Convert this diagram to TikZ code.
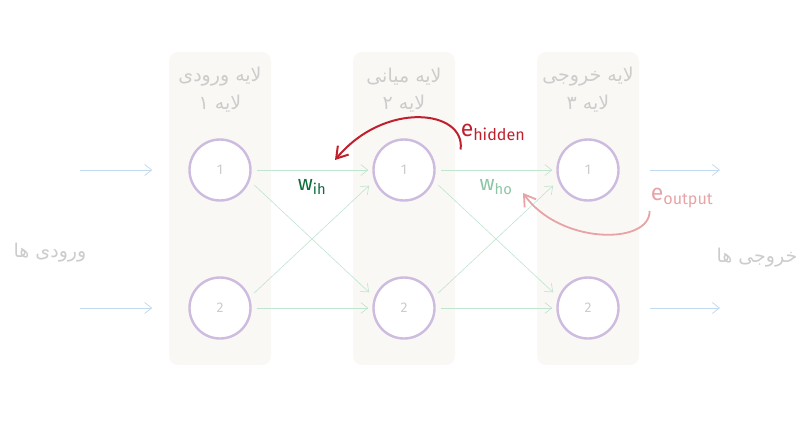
\documentclass[tikz,border=0pt]{standalone}
\usepackage{fontspec}
\setmainfont{Fira Sans}
\newfontfamily\farsi[Script=Arabic]{DejaVu Sans}
\TeXXeTstate=1
\usetikzlibrary{positioning,arrows.meta}
\definecolor{boxfill}{HTML}{FAF8F4}
\definecolor{ringcol}{HTML}{CDBCDF}
\definecolor{greytext}{HTML}{CCCCCC}
\definecolor{inblue}{HTML}{C2DAEF}
\definecolor{linkgreen}{HTML}{BFE4CF}
\definecolor{wihcol}{HTML}{0E6B3C}
\definecolor{whocol}{HTML}{8EC5A6}
\definecolor{hidred}{HTML}{C01F2D}
\definecolor{outpink}{HTML}{E7A3A5}

\begin{document}
\begin{tikzpicture}[x=1pt,y=-1pt,
  layerbox/.style={fill=boxfill,rounded corners=9pt},
  neuron/.style={circle,draw=ringcol,line width=2.4pt,fill=white,minimum size=61pt,inner sep=0pt,text=greytext,font=\fontsize{14}{14}\selectfont},
  title/.style={text=greytext,font=\farsi\fontsize{19}{19}\selectfont},
  link/.style={draw=linkgreen,line width=0.6pt,-{Straight Barb[length=7pt,width=11pt]},shorten <=5pt,shorten >=4pt},
  flow/.style={draw=inblue,line width=0.8pt,-{Straight Barb[length=7pt,width=11pt]}},
  weight/.style={font=\fontsize{21}{21}\selectfont},
  errlabel/.style={font=\fontsize{23}{23}\selectfont,inner sep=1pt}]
\useasboundingbox (0,0) rectangle (807,447);

% layer boxes
\fill[layerbox] (169,52) rectangle (271,365);
\fill[layerbox] (353,52) rectangle (455,365);
\fill[layerbox] (537,52) rectangle (639,365);

% layer titles
\node[title] (t1) at (220,77) {\beginR لایه ورودی\endR};
\node[title] (n1) at (220,104) {\beginR لایه ۱\endR};
\node[title] (t2) at (404,77) {\beginR لایه میانی\endR};
\node[title] (n2) at (404,104) {\beginR لایه ۲\endR};
\node[title] (t3) at (588,77) {\beginR لایه خروجی\endR};
\node[title] (n3) at (588,104) {\beginR لایه ۳\endR};

% neurons
\node[neuron] (i1) at (220,170) {1};
\node[neuron] (i2) at (220,308) {2};
\node[neuron] (h1) at (404,170) {1};
\node[neuron] (h2) at (404,308) {2};
\node[neuron] (o1) at (588,170) {1};
\node[neuron] (o2) at (588,308) {2};

% inputs and outputs
\node[title] (inlab) at (50,253) {\beginR ورودی ها\endR};
\node[title] (outlab) at (757,258) {\beginR خروجی ها\endR};
\coordinate (in1) at (80,170);
\coordinate (in2) at (80,308);
\coordinate (out1) at (720,170);
\coordinate (out2) at (720,308);
\draw[flow,shorten >=36pt] (in1) -- (i1);
\draw[flow,shorten >=36pt] (in2) -- (i2);
\draw[flow,shorten <=30pt] (o1) -- (out1);
\draw[flow,shorten <=30pt] (o2) -- (out2);

% links
\draw[link] (i1) -- (h1);
\draw[link] (i2) -- (h2);
\draw[link,shorten <=6pt,shorten >=7pt] (i1.-20) -- (h2.160);
\draw[link,shorten <=6pt,shorten >=7pt] (i2.20) -- (h1.-160);
\draw[link] (h1) -- (o1);
\draw[link] (h2) -- (o2);
\draw[link,shorten <=6pt,shorten >=7pt] (h1.-20) -- (o2.160);
\draw[link,shorten <=6pt,shorten >=7pt] (h2.20) -- (o1.-160);

% weights
\node[weight,text=wihcol] (wih) at (312,187) {w\textsubscript{ih}};
\node[weight,text=whocol] (who) at (496,187) {w\textsubscript{ho}};

% errors
\node[errlabel,text=hidred] (ehid) at (493,132) {e\textsubscript{hidden}};
\node[errlabel,text=outpink] (eout) at (682,198) {e\textsubscript{output}};
\coordinate (hidtip) at (335,160);
\coordinate (outtip) at (523,193);
\draw[hidred,line width=2pt,-{Straight Barb[length=11pt,width=14pt]}] ([shift={(1,8)}]ehid.south west) .. controls (466,110) and (385,100) .. (hidtip);
\draw[outpink,line width=1.8pt,-{Straight Barb[length=11pt,width=14pt]}] ([shift={(0,2)}]eout.south west) .. controls (650,245) and (560,245) .. (outtip);
\end{tikzpicture}
\end{document}
